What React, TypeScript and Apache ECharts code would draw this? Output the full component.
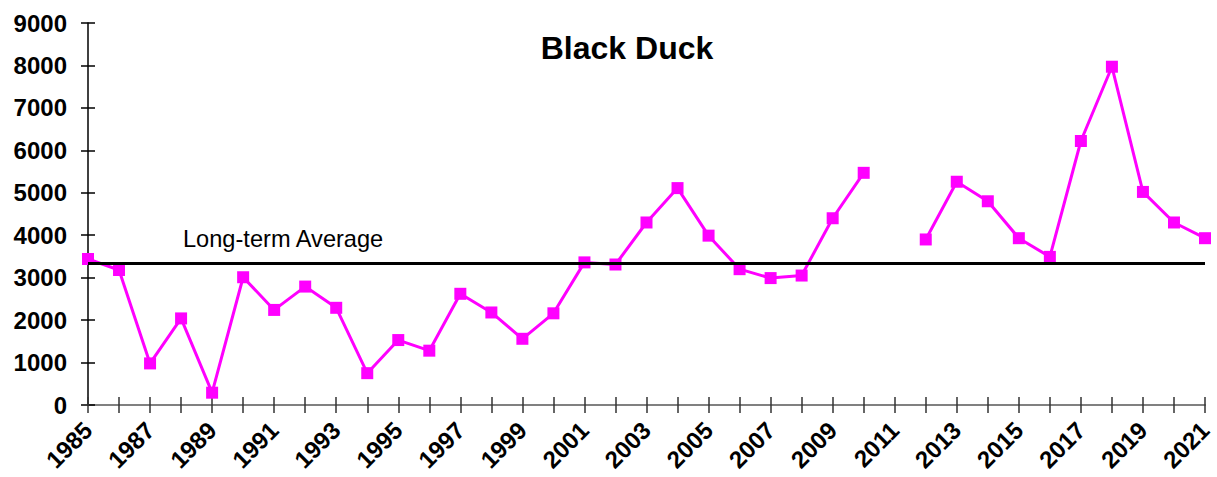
import React, { useEffect, useRef } from "react";
import * as echarts from "echarts";

const years: string[] = [
  "1985", "1986", "1987", "1988", "1989", "1990", "1991", "1992", "1993", "1994",
  "1995", "1996", "1997", "1998", "1999", "2000", "2001", "2002", "2003", "2004",
  "2005", "2006", "2007", "2008", "2009", "2010", "2011", "2012", "2013", "2014",
  "2015", "2016", "2017", "2018", "2019", "2020", "2021",
];

const blackDuck: (number | null)[] = [
  3440, 3180, 980, 2040, 290, 3010, 2240, 2790, 2290, 750,
  1530, 1280, 2620, 2180, 1560, 2160, 3360, 3310, 4300, 5110,
  3990, 3200, 2990, 3050, 4400, 5470, null, 3900, 5260, 4800,
  3930, 3490, 6220, 7970, 5020, 4300, 3930,
];

const longTermAverage = 3340;

const TITLE = "Black Duck";
const AVG_LABEL = "Long-term Average";

const FONT = "'Liberation Sans', Arial, sans-serif";

export default function App() {
  const ref = useRef<HTMLDivElement>(null);

  useEffect(() => {
    if (!ref.current) return;
    const chart = echarts.init(ref.current, null, { renderer: "svg" });
    chart.setOption({
      animation: false,
      backgroundColor: "#ffffff",
      title: {
        text: TITLE,
        left: 622,
        top: 27,
        textAlign: "center",
        textStyle: { fontFamily: FONT, fontWeight: "bold", fontSize: 32, color: "#000" },
      },
      graphic: [
        {
          type: "text",
          left: 183,
          top: 227,
          style: { text: AVG_LABEL, fontFamily: FONT, fontSize: 23.6, fill: "#000" },
        },
      ],
      grid: { left: 88, right: 12, top: 23, bottom: 72, containLabel: false },
      xAxis: [
        {
          type: "category",
          data: years,
          position: "bottom",
          boundaryGap: false,
          axisLine: { show: true, lineStyle: { color: "#808080", width: 2 } },
          axisTick: { show: true, interval: 0, length: 8, lineStyle: { color: "#333", width: 1.5 } },
          axisLabel: {
            interval: 1,
            rotate: 45,
            margin: 21,
            fontFamily: FONT,
            fontWeight: "bold",
            fontSize: 24,
            color: "#000",
          },
          splitLine: { show: false },
        },
        {
          type: "category",
          data: years,
          position: "bottom",
          boundaryGap: false,
          axisLine: { show: false },
          axisTick: { show: true, inside: true, interval: 0, length: 8, lineStyle: { color: "#333", width: 1.5 } },
          axisLabel: { show: false },
          splitLine: { show: false },
        },
      ],
      yAxis: [
        {
          type: "value",
          min: 0,
          max: 9000,
          interval: 1000,
          position: "left",
          axisLine: { show: true, lineStyle: { color: "#000", width: 1.5 } },
          axisTick: { show: true, length: 7, lineStyle: { color: "#000", width: 1.5 } },
          axisLabel: {
            margin: 21,
            formatter: (v: number) => String(v),
            fontFamily: FONT,
            fontWeight: "bold",
            fontSize: 24,
            color: "#000",
          },
          splitLine: { show: false },
        },
        {
          type: "value",
          min: 0,
          max: 9000,
          interval: 1000,
          position: "left",
          axisLine: { show: false },
          axisTick: { show: true, inside: true, length: 7, lineStyle: { color: "#000", width: 1.5 } },
          axisLabel: { show: false },
          splitLine: { show: false },
        },
      ],
      series: [
        {
          type: "line",
          name: TITLE,
          data: blackDuck,
          xAxisIndex: 0,
          yAxisIndex: 0,
          connectNulls: false,
          symbol: "rect",
          symbolSize: 12,
          lineStyle: { color: "#ff00ff", width: 3 },
          itemStyle: { color: "#ff00ff" },
          markLine: {
            silent: true,
            symbol: "none",
            label: { show: false },
            lineStyle: { color: "#000", width: 3, type: "solid" },
            data: [{ yAxis: longTermAverage }],
          },
          z: 3,
        },
      ],
    });
    return () => chart.dispose();
  }, []);

  return (
    <div
      ref={ref}
      style={{ position: "fixed", left: 0, top: 0, width: 1217, height: 477 }}
    />
  );
}
